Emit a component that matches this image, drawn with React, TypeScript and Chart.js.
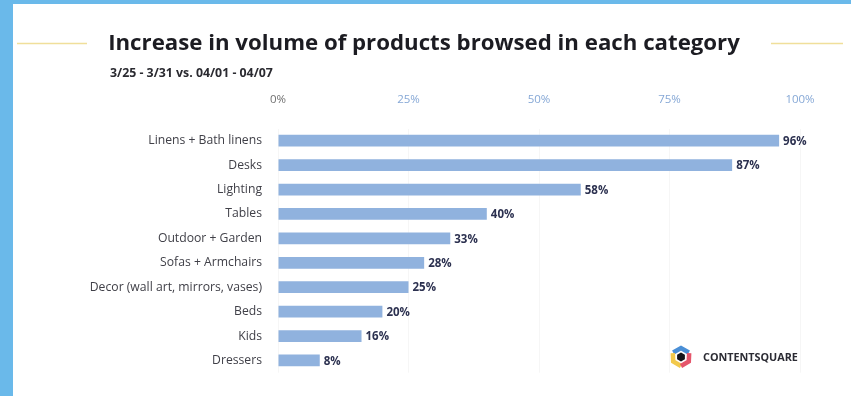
import React, { useEffect, useRef } from "react";
import { Chart, registerables } from "chart.js";

Chart.register(...registerables);

const titleText = "Increase in volume of products browsed in each category";
const subtitleText = "3/25 - 3/31 vs. 04/01 - 04/07";
const brandText = "CONTENTSQUARE";

const categories = [
  "Linens + Bath linens",
  "Desks",
  "Lighting",
  "Tables",
  "Outdoor + Garden",
  "Sofas + Armchairs",
  "Decor (wall art, mirrors, vases)",
  "Beds",
  "Kids",
  "Dressers",
];
const values = [96, 87, 58, 40, 33, 28, 25, 20, 16, 8];
const xTickValues = [0, 25, 50, 75, 100];

const FONT = "'Open Sans', Lato, sans-serif";

function fitFont(ctx: CanvasRenderingContext2D, text: string, weight: string, target: number, base: number) {
  ctx.font = `${weight} ${base}px ${FONT}`;
  const w = ctx.measureText(text).width;
  const size = Math.min(base * 1.3, (base * target) / w);
  ctx.font = `${weight} ${size}px ${FONT}`;
}

const decorPlugin = {
  id: "decor",
  afterDraw(chart: any) {
    const ctx = chart.ctx as CanvasRenderingContext2D;
    ctx.save();
    // title
    ctx.fillStyle = "#1c1c22";
    fitFont(ctx, titleText, "bold", 632, 22);
    ctx.textAlign = "center";
    ctx.textBaseline = "middle";
    ctx.fillText(titleText, 424, 44);
    // yellow lines
    ctx.strokeStyle = "#f0df9a";
    ctx.lineWidth = 1.5;
    ctx.beginPath();
    ctx.moveTo(17, 43.5);
    ctx.lineTo(87, 43.5);
    ctx.moveTo(771, 43.5);
    ctx.lineTo(843, 43.5);
    ctx.stroke();
    // subtitle
    ctx.fillStyle = "#2a2a30";
    fitFont(ctx, subtitleText, "bold", 163, 10.5);
    ctx.textAlign = "left";
    ctx.fillText(subtitleText, 110, 73);
    // logo
    const cx = 681, cy = 357, r = 9;
    const pt = (deg: number, rr: number) => {
      const a = (deg * Math.PI) / 180;
      return [cx + rr * Math.cos(a), cy + rr * Math.sin(a)];
    };
    ctx.lineWidth = 4.5;
    ctx.lineJoin = "miter";
    const seg = (color: string, degs: number[]) => {
      ctx.strokeStyle = color;
      ctx.beginPath();
      degs.forEach((d, i) => {
        const [x, y] = pt(d, r);
        if (i === 0) ctx.moveTo(x, y);
        else ctx.lineTo(x, y);
      });
      ctx.stroke();
    };
    seg("#4a8fd6", [210, 270, 330]);
    seg("#f2c94c", [205, 150, 90]);
    seg("#e5566b", [335, 30, 90]);
    ctx.fillStyle = "#15151a";
    ctx.beginPath();
    [270, 330, 30, 90, 150, 210].forEach((d, i) => {
      const [x, y] = pt(d, 4.5);
      if (i === 0) ctx.moveTo(x, y);
      else ctx.lineTo(x, y);
    });
    ctx.closePath();
    ctx.fill();
    ctx.fillStyle = "#2b2b33";
    fitFont(ctx, brandText, "bold", 95, 9.5);
    ctx.textAlign = "left";
    ctx.fillText(brandText, 703, 358);
    ctx.restore();
  },
  afterDatasetsDraw(chart: any) {
    const ctx = chart.ctx as CanvasRenderingContext2D;
    const meta = chart.getDatasetMeta(0);
    ctx.save();
    ctx.fillStyle = "#2c3150";
    ctx.font = `bold 11.5px ${FONT}`;
    ctx.textAlign = "left";
    ctx.textBaseline = "middle";
    meta.data.forEach((bar: any, i: number) => {
      ctx.fillText(`${values[i]}%`, bar.x + 4, bar.y + 1);
    });
    ctx.restore();
  },
};

export default function App() {
  const ref = useRef<HTMLCanvasElement | null>(null);
  useEffect(() => {
    if (!ref.current) return;
    const chart = new Chart(ref.current, {
      type: "bar",
      data: {
        labels: categories,
        datasets: [
          {
            data: values,
            backgroundColor: "#90b2de",
            borderWidth: 0,
            barPercentage: 0.48,
            categoryPercentage: 1,
          },
        ],
      },
      options: {
        indexAxis: "y",
        animation: false,
        responsive: false,
        events: [],
        layout: { padding: { top: 80, left: 0, right: 51, bottom: 18 } },
        plugins: {
          legend: { display: false },
          tooltip: { enabled: false },
          title: { display: false },
        },
        scales: {
          x: {
            position: "top",
            min: 0,
            max: 100,
            afterBuildTicks: (s: any) => {
              s.ticks = xTickValues.map((v) => ({ value: v }));
            },
            afterFit: (s: any) => {
              s.height = 48.5;
            },
            grid: { color: "rgba(0,0,0,0.035)", drawTicks: false },
            border: { display: false },
            ticks: {
              padding: 22,
              callback: (v: any) => `${v}%`,
              color: (c: any) => (c.index === 0 ? "#707070" : "#86a8d6"),
              font: { family: FONT, size: 11.5 },
            },
          },
          y: {
            afterFit: (s: any) => {
              s.width = 278;
            },
            grid: { display: false, drawTicks: false },
            border: { display: false },
            ticks: {
              padding: 16,
              color: "#404048",
              font: { family: FONT, size: 12.2 },
            },
          },
        },
      },
      plugins: [decorPlugin],
    });
    return () => chart.destroy();
  }, []);
  return (
    <div
      style={{
        position: "fixed",
        left: 0,
        top: 0,
        width: 851,
        height: 396,
        background: "#6ab9ea",
        overflow: "hidden",
      }}
    >
      <div
        style={{
          position: "absolute",
          left: 13,
          top: 4,
          width: 838,
          height: 392,
          background: "#ffffff",
        }}
      />
      <canvas
        ref={ref}
        width={851}
        height={396}
        style={{ position: "absolute", left: 0, top: 0, width: 851, height: 396 }}
      />
    </div>
  );
}
